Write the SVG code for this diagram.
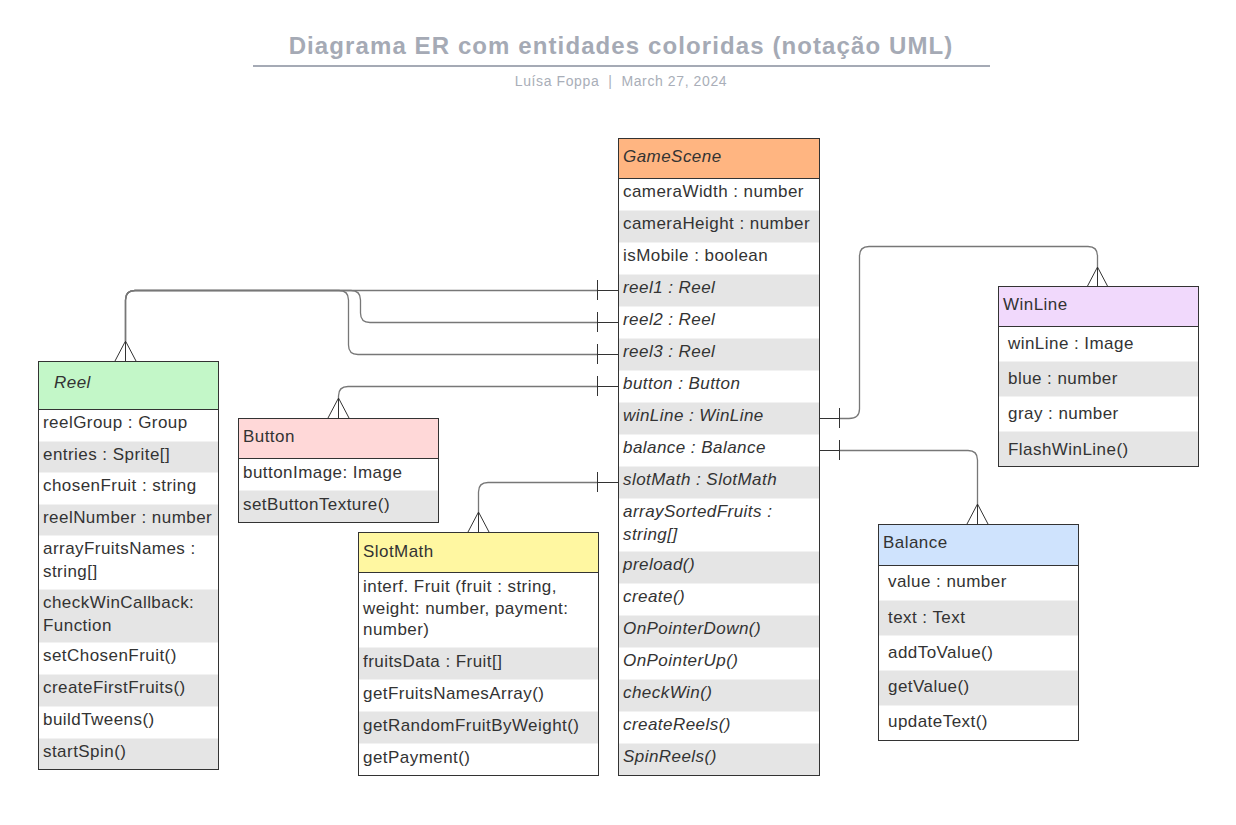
<svg xmlns="http://www.w3.org/2000/svg" width="1236" height="825" viewBox="0 0 1236 825">
<style>
.t{font-family:"Liberation Sans",Arial,sans-serif;font-size:17px;fill:#333;letter-spacing:0.45px}
.i{font-style:italic}
.g{fill:#e5e5e5}
.w{fill:#ffffff}
.box{fill:none;stroke:#333;stroke-width:1}
.ln{fill:none;stroke:#777;stroke-width:1.3}
.end{fill:none;stroke:#333;stroke-width:1}
.title{font-family:"Liberation Sans",Arial,sans-serif;font-size:24px;font-weight:bold;fill:#a5aab5;letter-spacing:1.1px}
.sub{font-family:"Liberation Sans",Arial,sans-serif;font-size:14px;fill:#a9aeb8;letter-spacing:0.6px;white-space:pre}
</style>
<rect width="1236" height="825" fill="#ffffff"/>
<g id="header">
<text class="title" x="621" y="54" text-anchor="middle">Diagrama ER com entidades coloridas (notação UML)</text>
<line x1="253" y1="66" x2="990" y2="66" stroke="#a5aab5" stroke-width="2"/>
<text class="sub" x="621" y="86" text-anchor="middle">Luísa Foppa  |  March 27, 2024</text>
</g>

<g id="connectors">
<path class="ln" d="M597.5,290.5 H135 Q125.5,290.5 125.5,300 V341"/>
<path class="ln" d="M597.5,322.5 H370 Q360.5,322.5 360.5,313 V300 Q360.5,290.5 351,290.5 H135 Q125.5,290.5 125.5,300 V341"/>
<path class="ln" d="M597.5,354.5 H358 Q348.5,354.5 348.5,345 V300 Q348.5,290.5 339,290.5 H135 Q125.5,290.5 125.5,300 V341"/>
<path class="end" d="M597.5,290.5 H618 M597.5,322.5 H618 M597.5,354.5 H618 M125.5,341 V361"/>
<path class="end" d="M125.5,341 L115,361 M125.5,341 L136,361"/>
<path class="end" d="M597.5,280 V300 M597.5,312 V332 M597.5,344 V364"/>
<path class="ln" d="M597.5,386.5 H348 Q338.5,386.5 338.5,396 V398"/>
<path class="end" d="M597.5,386.5 H618 M338.5,398 V418 M597.5,376 V396 M338.5,398 L328,418 M338.5,398 L349,418"/>
<path class="ln" d="M597.5,482.5 H488 Q478.5,482.5 478.5,492 V512"/>
<path class="end" d="M597.5,482.5 H618 M478.5,512 V532 M597.5,472 V492 M478.5,512 L468,532 M478.5,512 L489,532"/>
<path class="ln" d="M839.5,418.5 H849 Q859.5,418.5 859.5,409 V256 Q859.5,246.5 869,246.5 H1088 Q1097.5,246.5 1097.5,256 V267"/>
<path class="end" d="M819,418.5 H839.5 M1097.5,267 V287 M839.5,408 V428 M1097.5,267 L1087,287 M1097.5,267 L1108,287"/>
<path class="ln" d="M839.5,450.5 H968 Q977.5,450.5 977.5,460 V504"/>
<path class="end" d="M819,450.5 H839.5 M977.5,504 V524 M839.5,440 V460 M977.5,504 L967,524 M977.5,504 L988,524"/>
</g>

<g id="GameScene">
<rect x="618.5" y="138.5" width="201" height="40" fill="#ffb581"/>
<rect x="618.5" y="178.5" width="201" height="597" class="w"/>
<rect class="g" x="618.5" y="210.5" width="201" height="32"/>
<rect class="g" x="618.5" y="274.5" width="201" height="32"/>
<rect class="g" x="618.5" y="338.5" width="201" height="32"/>
<rect class="g" x="618.5" y="402.5" width="201" height="32"/>
<rect class="g" x="618.5" y="466.5" width="201" height="32"/>
<rect class="g" x="618.5" y="551.5" width="201" height="32"/>
<rect class="g" x="618.5" y="615.5" width="201" height="32"/>
<rect class="g" x="618.5" y="679.5" width="201" height="32"/>
<rect class="g" x="618.5" y="743.5" width="201" height="32"/>
<line x1="618.5" y1="178.5" x2="819.5" y2="178.5" stroke="#333"/>
<rect class="box" x="618.5" y="138.5" width="201" height="637"/>
<text class="t i" x="623" y="162">GameScene</text>
<text class="t" x="623" y="197">cameraWidth : number</text>
<text class="t" x="623" y="229">cameraHeight : number</text>
<text class="t" x="623" y="261">isMobile : boolean</text>
<text class="t i" x="623" y="293">reel1 : Reel</text>
<text class="t i" x="623" y="325">reel2 : Reel</text>
<text class="t i" x="623" y="357">reel3 : Reel</text>
<text class="t i" x="623" y="389">button : Button</text>
<text class="t i" x="623" y="421">winLine : WinLine</text>
<text class="t i" x="623" y="453">balance : Balance</text>
<text class="t i" x="623" y="485">slotMath : SlotMath</text>
<text class="t i" x="623" y="517">arraySortedFruits :</text>
<text class="t i" x="623" y="540">string[]</text>
<text class="t i" x="623" y="570">preload()</text>
<text class="t i" x="623" y="602">create()</text>
<text class="t i" x="623" y="634">OnPointerDown()</text>
<text class="t i" x="623" y="666">OnPointerUp()</text>
<text class="t i" x="623" y="698">checkWin()</text>
<text class="t i" x="623" y="730">createReels()</text>
<text class="t i" x="623" y="762">SpinReels()</text>
</g>

<g id="Reel">
<rect x="38.5" y="361.5" width="180" height="48" fill="#c3f7c8"/>
<rect x="38.5" y="409.5" width="180" height="360" class="w"/>
<rect class="g" x="38.5" y="441.5" width="180" height="31"/>
<rect class="g" x="38.5" y="504.5" width="180" height="31"/>
<rect class="g" x="38.5" y="589.5" width="180" height="53"/>
<rect class="g" x="38.5" y="674.5" width="180" height="32"/>
<rect class="g" x="38.5" y="738.5" width="180" height="31"/>
<line x1="38.5" y1="409.5" x2="218.5" y2="409.5" stroke="#333"/>
<rect class="box" x="38.5" y="361.5" width="180" height="408"/>
<text class="t i" x="54" y="388">Reel</text>
<text class="t" x="43" y="428">reelGroup : Group</text>
<text class="t" x="43" y="460">entries : Sprite[]</text>
<text class="t" x="43" y="491">chosenFruit : string</text>
<text class="t" x="43" y="523">reelNumber : number</text>
<text class="t" x="43" y="554">arrayFruitsNames :</text>
<text class="t" x="43" y="577">string[]</text>
<text class="t" x="43" y="608">checkWinCallback:</text>
<text class="t" x="43" y="631">Function</text>
<text class="t" x="43" y="661">setChosenFruit()</text>
<text class="t" x="43" y="693">createFirstFruits()</text>
<text class="t" x="43" y="725">buildTweens()</text>
<text class="t" x="43" y="757">startSpin()</text>
</g>

<g id="Button">
<rect x="238.5" y="418.5" width="200" height="40" fill="#ffd8d8"/>
<rect x="238.5" y="458.5" width="200" height="64" class="w"/>
<rect class="g" x="238.5" y="490.5" width="200" height="32"/>
<line x1="238.5" y1="458.5" x2="438.5" y2="458.5" stroke="#333"/>
<rect class="box" x="238.5" y="418.5" width="200" height="104"/>
<text class="t" x="243" y="442">Button</text>
<text class="t" x="243" y="478">buttonImage: Image</text>
<text class="t" x="243" y="510">setButtonTexture()</text>
</g>

<g id="SlotMath">
<rect x="358.5" y="532.5" width="240" height="40" fill="#fff7a1"/>
<rect x="358.5" y="572.5" width="240" height="203" class="w"/>
<rect class="g" x="358.5" y="647.5" width="240" height="32"/>
<rect class="g" x="358.5" y="711.5" width="240" height="32"/>
<line x1="358.5" y1="572.5" x2="598.5" y2="572.5" stroke="#333"/>
<rect class="box" x="358.5" y="532.5" width="240" height="243"/>
<text class="t" x="363" y="557">SlotMath</text>
<text class="t" x="363" y="592">interf. Fruit (fruit : string,</text>
<text class="t" x="363" y="614">weight: number, payment:</text>
<text class="t" x="363" y="635">number)</text>
<text class="t" x="363" y="667">fruitsData : Fruit[]</text>
<text class="t" x="363" y="699">getFruitsNamesArray()</text>
<text class="t" x="363" y="731">getRandomFruitByWeight()</text>
<text class="t" x="363" y="763">getPayment()</text>
</g>

<g id="WinLine">
<rect x="998.5" y="286.5" width="200" height="40" fill="#f1d9fc"/>
<rect x="998.5" y="326.5" width="200" height="140" class="w"/>
<rect class="g" x="998.5" y="361.5" width="200" height="35"/>
<rect class="g" x="998.5" y="431.5" width="200" height="35"/>
<line x1="998.5" y1="326.5" x2="1198.5" y2="326.5" stroke="#333"/>
<rect class="box" x="998.5" y="286.5" width="200" height="180"/>
<text class="t" x="1003" y="310">WinLine</text>
<text class="t" x="1008" y="349">winLine : Image</text>
<text class="t" x="1008" y="384">blue : number</text>
<text class="t" x="1008" y="419">gray : number</text>
<text class="t" x="1008" y="455">FlashWinLine()</text>
</g>

<g id="Balance">
<rect x="878.5" y="524.5" width="200" height="41" fill="#cfe3fd"/>
<rect x="878.5" y="565.5" width="200" height="175" class="w"/>
<rect class="g" x="878.5" y="600.5" width="200" height="35"/>
<rect class="g" x="878.5" y="670.5" width="200" height="35"/>
<line x1="878.5" y1="565.5" x2="1078.5" y2="565.5" stroke="#333"/>
<rect class="box" x="878.5" y="524.5" width="200" height="216"/>
<text class="t" x="883" y="548">Balance</text>
<text class="t" x="888" y="587">value : number</text>
<text class="t" x="888" y="623">text : Text</text>
<text class="t" x="888" y="658">addToValue()</text>
<text class="t" x="888" y="692">getValue()</text>
<text class="t" x="888" y="727">updateText()</text>
</g>
</svg>
